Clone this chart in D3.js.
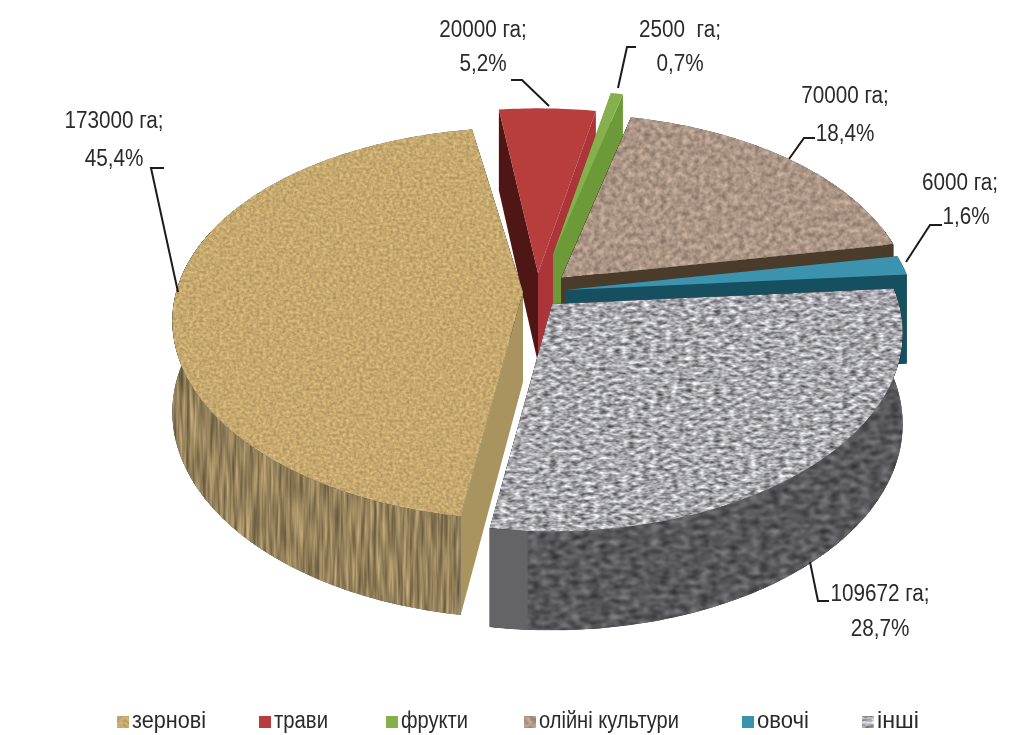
<!DOCTYPE html>
<html>
<head>
<meta charset="utf-8">
<style>
html, body { margin: 0; padding: 0; background: #fff; }
text { font-family: "Liberation Sans", sans-serif; fill: #2a2a2a; }
</style>
<script src="https://cdn.jsdelivr.net/npm/d3@7"></script>
</head>
<body>
<div id="chartArea"></div>
<script>
var crops = ['зернові', 'трави', 'фрукти', 'олійні культури', 'овочі', 'інші'];
var hectares = [173000, 20000, 2500, 70000, 6000, 109672];
var percents = ['45,4%', '5,2%', '0,7%', '18,4%', '1,6%', '28,7%'];

var w = 1009, h = 735;

// where each exploded slice has its tip (px), hand fitted
var tips = [[523, 292], [538, 273], [553, 255], [561, 278], [565, 290], [552, 304]];
var endNudge = [-2.3, 0, 0, 0, 0, 0];

var topColors = ['#c6a96e', '#b83c3e', '#86b04c', '#ab9585', '#3a93ae', '#a8a8ae'];
var sideColors = ['#94805a', '#a5a5a5', '#6d9a38', '#4c3a2a', '#14505f', '#58585c'];
var startFace = ['#a9945f', '#4f1416', '#6d9a38', '#4c3a2a', '#14505f', '#636367'];
var endFace = ['#a9945f', '#ab3538', '#6d9a38', '#4c3a2a', '#14505f', '#636367'];
var topTex = ['texGrain', null, null, 'texOil', null, 'texOther'];
var sideTex = ['texStripes', null, null, null, null, 'texOtherSide'];
var plainWall = [0, 0, 0, 0, 0, 5.5];

var labelPos = [[114, 122], [483, 31], [680, 31], [845, 97], [960, 184], [880, 595]];
var labelGap = [38, 34, 34, 38, 34, 35];
var leaders = [
    [[178, 292], [151, 168], [164, 168]],
    [[549, 106], [522, 80], [511, 80]],
    [[618, 88], [627, 47], [636, 47]],
    [[789, 159], [804, 138], [815, 138]],
    [[906, 262], [930, 225], [942, 225]],
    [[810, 562], [818, 601], [829, 601]]
];
var legendX = [117, 259, 386, 524, 742, 862];
var legendWidth = [74, 54, 67, 140, 52, 42];

var radiusX = 347, radiusY = 196, depth = 90;
var perspX = 0.15, perspY = 0.16, perspZ = 0.1;
var deg = Math.PI / 180;

var svg = d3.select('#chartArea').append('svg')
    .attr('width', w)
    .attr('height', h)
    .style('display', 'block');

var defs = svg.append('defs');

function addTexture(id, freq, octaves, contrast, seed, soft) {
    var f = defs.append('filter')
        .attr('id', id)
        .attr('filterUnits', 'userSpaceOnUse')
        .attr('x', 0).attr('y', 0).attr('width', w).attr('height', h)
        .attr('color-interpolation-filters', 'sRGB');
    f.append('feTurbulence')
        .attr('type', 'fractalNoise')
        .attr('baseFrequency', freq)
        .attr('numOctaves', octaves)
        .attr('seed', seed)
        .attr('result', 'noise');
    var o = 0.5 - contrast * 0.5;
    f.append('feColorMatrix')
        .attr('in', 'noise')
        .attr('values', [contrast, 0, 0, 0, o, contrast, 0, 0, 0, o, contrast, 0, 0, 0, o, 0, 0, 0, 0, 1].join(' '))
        .attr('result', 'gray');
    f.append('feGaussianBlur')
        .attr('in', 'gray')
        .attr('stdDeviation', soft)
        .attr('result', 'grain');
    f.append('feComposite')
        .attr('in', 'SourceGraphic')
        .attr('in2', 'grain')
        .attr('operator', 'arithmetic')
        .attr('k1', 2).attr('k2', 0).attr('k3', 0).attr('k4', 0)
        .attr('result', 'mix');
    f.append('feComposite')
        .attr('in', 'mix')
        .attr('in2', 'SourceAlpha')
        .attr('operator', 'in');
}

addTexture('texGrain', '0.3 0.35', 2, 0.22, 3, 0.6);
addTexture('texStripes', '0.3 0.02', 2, 0.5, 5, 0.6);
addTexture('texOil', '0.18', 2, 0.32, 8, 0.6);
addTexture('texOther', '0.14 0.28', 2, 0.75, 11, 0.6);
addTexture('texOtherSide', '0.1 0.2', 2, 0.7, 14, 0.8);

var soften = defs.append('filter').attr('id', 'soften');
soften.append('feGaussianBlur').attr('stdDeviation', 0.5);

var slices = d3.pie()
    .sort(null)
    .value(function (d) { return d; })
    .startAngle(189 * deg)
    .endAngle(549 * deg)(hectares);

// angle + level (0 top, 1 bottom) to screen position, nearer means bigger
function project(i, a, z) {
    var s = Math.sin(a), c = -Math.cos(a);
    return [
        tips[i][0] + radiusX * s * (1 + perspX * c),
        tips[i][1] + radiusY * c * (1 + perspY * c) + z * depth * (1 + perspZ * c)
    ];
}

function rimAngles(a0, a1) {
    var n = Math.max(2, Math.ceil((a1 - a0) / deg));
    return d3.range(n + 1).map(function (k) { return a0 + (a1 - a0) * k / n; });
}

var line = d3.line();

function wallPath(i, from, to) {
    var rim = rimAngles(from, to);
    var wall = rim.map(function (a) { return project(i, a, 0); })
        .concat(rim.slice().reverse().map(function (a) { return project(i, a, 1); }));
    return line(wall) + 'Z';
}

var chart = svg.append('g').attr('filter', 'url(#soften)');

// back to front, the tops hide whatever is behind them
[1, 2, 3, 4, 5, 0].forEach(function (i) {
    var d = slices[i];
    var a0 = d.startAngle, a1 = d.endAngle + endNudge[i] * deg;
    var g = chart.append('g').attr('class', 'slice');
    var tip = tips[i];
    var tipLow = [tip[0], tip[1] + depth];

    // cut faces
    [[a0, startFace[i]], [a1, endFace[i]]].forEach(function (e) {
        g.append('path')
            .attr('d', line([tip, project(i, e[0], 0), project(i, e[0], 1), tipLow]) + 'Z')
            .attr('fill', e[1]);
    });

    // outer wall, only the part that faces the viewer (75..290 deg round the clock)
    var turn = a0 >= 2 * Math.PI ? 2 * Math.PI : 0;
    var from = Math.max(a0 - turn, 75 * deg), to = Math.min(a1 - turn, 290 * deg);
    if (to > from) {
        g.append('path')
            .attr('d', wallPath(i, from, to))
            .attr('fill', sideColors[i])
            .attr('filter', sideTex[i] ? 'url(#' + sideTex[i] + ')' : null);
        if (plainWall[i]) {
            g.append('path')
                .attr('d', wallPath(i, to - plainWall[i] * deg, to))
                .attr('fill', endFace[i]);
        }
    }

    // top
    var top = [tip].concat(rimAngles(a0, a1).map(function (a) { return project(i, a, 0); }));
    g.append('path')
        .attr('d', line(top) + 'Z')
        .attr('fill', topColors[i])
        .attr('filter', topTex[i] ? 'url(#' + topTex[i] + ')' : null);
});

var labels = svg.append('g').attr('filter', 'url(#soften)');

labels.selectAll('path.leader')
    .data(leaders)
    .enter()
    .append('path')
    .attr('class', 'leader')
    .attr('d', line)
    .attr('fill', 'none')
    .attr('stroke', '#1a1a1a')
    .attr('stroke-width', 2);

// the reference font is a narrow one, squeeze the glyphs to fit
function squeeze(sel, k) {
    sel.attr('lengthAdjust', 'spacingAndGlyphs')
        .attr('textLength', sel.node().getComputedTextLength() * k);
}

var fmtLabel = function (i) {
    return (i === 2 ? hectares[i] + '  га;' : hectares[i] + ' га;');
};

hectares.forEach(function (v, i) {
    var top = labels.append('text')
        .attr('x', labelPos[i][0])
        .attr('y', labelPos[i][1])
        .attr('text-anchor', 'middle')
        .attr('dominant-baseline', 'middle')
        .style('white-space', 'pre')
        .style('font-size', '23px')
        .text(fmtLabel(i));
    squeeze(top, 0.9);
    var pct = labels.append('text')
        .attr('x', labelPos[i][0] + (i === 4 ? 6 : 0))
        .attr('y', labelPos[i][1] + labelGap[i])
        .attr('text-anchor', 'middle')
        .attr('dominant-baseline', 'middle')
        .style('font-size', '23px')
        .text(percents[i]);
    squeeze(pct, 0.9);
});

var legend = svg.append('g').attr('class', 'legend');

crops.forEach(function (name, i) {
    legend.append('rect')
        .attr('x', legendX[i])
        .attr('y', 716)
        .attr('width', 12)
        .attr('height', 12)
        .attr('fill', topColors[i])
        .attr('filter', topTex[i] ? 'url(#' + topTex[i] + ')' : null);
    legend.append('text')
        .attr('x', legendX[i] + 15)
        .attr('y', 722)
        .attr('dominant-baseline', 'middle')
        .attr('filter', 'url(#soften)')
        .attr('lengthAdjust', 'spacingAndGlyphs')
        .attr('textLength', legendWidth[i])
        .style('font-size', '23px')
        .text(name);
});
</script>
</body>
</html>
